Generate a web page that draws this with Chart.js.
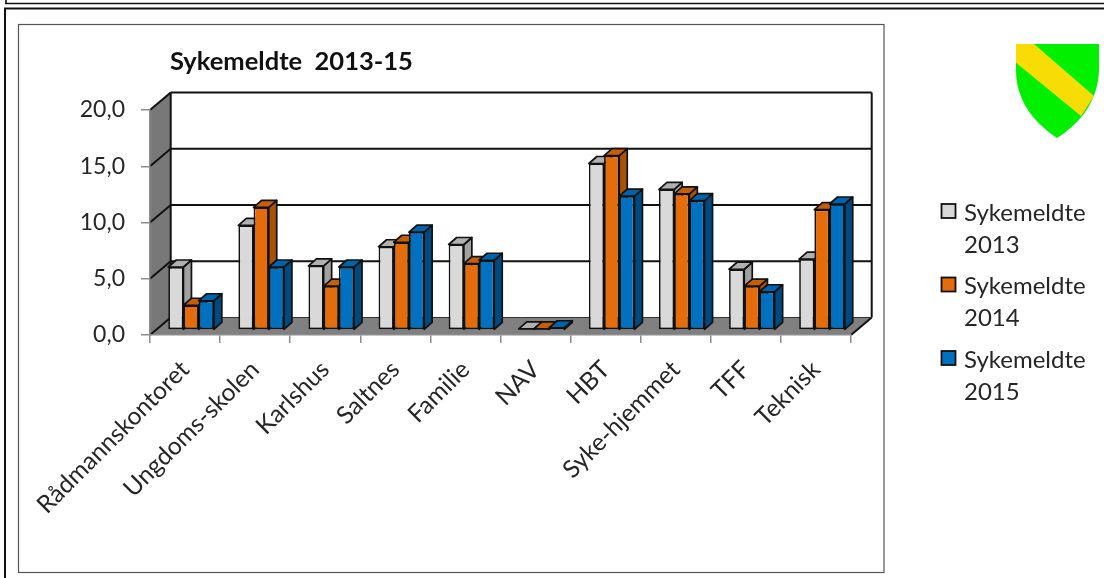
<!DOCTYPE html>
<html lang="no">
<head>
<meta charset="utf-8">
<title>Sykemeldte 2013-15</title>
<style>
html,body{margin:0;padding:0;background:#fff;width:1104px;height:578px;overflow:hidden}
#wrap{position:relative;width:1104px;height:578px}
canvas{position:absolute;left:0;top:0}
</style>
<script src="https://cdn.jsdelivr.net/npm/chart.js@4"></script>
</head>
<body>
<div id="wrap"><canvas id="c" width="1104" height="578"></canvas></div>
<script>
const categories = ["Rådmannskontoret","Ungdoms-skolen","Karlshus","Saltnes","Familie","NAV","HBT","Syke-hjemmet","TFF","Teknisk"];
const sykemeldte2013 = [5.6,9.3,5.7,7.4,7.6,0.1,14.8,12.5,5.4,6.3];
const sykemeldte2014 = [2.2,10.9,3.9,7.8,5.9,0.1,15.5,12.1,3.9,10.7];
const sykemeldte2015 = [2.6,5.6,5.6,8.7,6.2,0.2,11.9,11.5,3.4,11.2];
const seriesNames = ["Sykemeldte 2013","Sykemeldte 2014","Sykemeldte 2015"];
const chartTitle = "Sykemeldte  2013-15";
const yTicks = [0,5,10,15,20];

const faceColors = ["#d9d9d9","#e46c0a","#0070c0"];
const topColors  = ["#b0b0b0","#c75f08","#0064ac"];
const sideColors = ["#a0a0a0","#a85208","#004a80"];

const WALL = {dx:20.7, dy:-17.5};   // chart depth
const PLANE = {dx:6, dy:-5};        // plane of the bars' front faces
const BAR = {dx:8, dy:-7};          // bar depth
const FONT = "Lato, sans-serif";

function poly(ctx, pts, fill, stroke, lw){
  ctx.beginPath();
  pts.forEach((p,i)=> i ? ctx.lineTo(p[0],p[1]) : ctx.moveTo(p[0],p[1]));
  ctx.closePath();
  if(fill){ctx.fillStyle=fill;ctx.fill();}
  if(stroke){ctx.strokeStyle=stroke;ctx.lineWidth=lw;ctx.lineJoin="round";ctx.stroke();}
}
function line(ctx,x1,y1,x2,y2,color,lw){
  ctx.beginPath();ctx.moveTo(x1,y1);ctx.lineTo(x2,y2);
  ctx.strokeStyle=color;ctx.lineWidth=lw;ctx.stroke();
}

const framePlugin = {
  id:"frame",
  beforeDraw(chart){
    const ctx=chart.ctx, a=chart.chartArea, y=chart.scales.y;
    const dx=WALL.dx, dy=WALL.dy;
    ctx.save();
    ctx.fillStyle="#fff";ctx.fillRect(0,0,chart.width,chart.height);
    // page frame
    line(ctx,6,0,6,3.5,"#111",1.6);
    line(ctx,5,3.5,1104,3.5,"#111",1.6);
    line(ctx,4,8.5,1104,8.5,"#111",2);
    line(ctx,5,8,5,578,"#111",2);
    ctx.strokeStyle="#555";ctx.lineWidth=1.2;ctx.strokeRect(18.5,24.5,865.5,548);
    // side wall and floor
    const y0=y.getPixelForValue(0), yTop=y.getPixelForValue(yTicks[yTicks.length-1]);
    poly(ctx,[[a.left,yTop],[a.left+dx,yTop+dy],[a.left+dx,y0+dy],[a.left,y0]],"#787878");
    poly(ctx,[[a.left,y0],[a.left+dx,y0+dy],[a.right+dx,y0+dy],[a.right,y0]],"#808080");
    // gridlines on the back wall and the wall diagonals
    yTicks.forEach(v=>{
      const py=y.getPixelForValue(v);
      if(v>0) line(ctx,a.left+dx,py+dy,a.right+dx,py+dy,"#111",2);
      line(ctx,a.left,py,a.left+dx,py+dy,"#111",2);
    });
    line(ctx,a.left+dx,yTop+dy,a.left+dx,y0+dy,"#111",2);
    line(ctx,a.right+dx,yTop+dy,a.right+dx,y0+dy,"#111",2);
    line(ctx,a.right+dx,y0+dy,a.right,y0,"#111",2);
    line(ctx,a.left+dx,y0+dy,a.right+dx,y0+dy,"#333",1);
    ctx.restore();
  },
  beforeDatasetsDraw(chart){
    const ctx=chart.ctx;
    ctx.save();
    ctx.translate(PLANE.dx,PLANE.dy);
    // tops and sides first, series by series; the library then paints the front faces
    chart.data.datasets.forEach((ds,i)=>{
      chart.getDatasetMeta(i).data.forEach(bar=>{
        const l=bar.x-bar.width/2, r=bar.x+bar.width/2, t=bar.y, b=bar.base;
        poly(ctx,[[r,t],[r+BAR.dx,t+BAR.dy],[r+BAR.dx,b+BAR.dy],[r,b]],sideColors[i],"#111",1.7);
        poly(ctx,[[l,t],[l+BAR.dx,t+BAR.dy],[r+BAR.dx,t+BAR.dy],[r,t]],topColors[i],"#111",1.7);
      });
    });
  },
  afterDatasetsDraw(chart){ chart.ctx.restore(); },
  afterLayout(chart){
    const tb=chart.titleBlock;
    if(tb){ tb.left=170; tb.right=500; tb.top=46; tb.bottom=76; }
  },
  afterDraw(chart){
    const ctx=chart.ctx;
    ctx.save();
    // legend
    const rows=[204,277.5,351];
    seriesNames.forEach((name,i)=>{
      const ry=rows[i];
      ctx.fillStyle=faceColors[i];ctx.strokeStyle="#111";ctx.lineWidth=1.8;
      ctx.fillRect(941.5,ry,14,14);ctx.strokeRect(941.5,ry,14,14);
      ctx.fillStyle="#262626";ctx.font="24px "+FONT;ctx.textBaseline="middle";ctx.textAlign="left";
      const [a,b]=name.split(" ");
      ctx.fillText(a,964,ry+9);
      ctx.fillText(b,964,ry+41);
    });
    // municipal shield
    ctx.beginPath();
    ctx.moveTo(1016,44);ctx.lineTo(1099,44);ctx.lineTo(1099,70);
    ctx.bezierCurveTo(1098,100,1082,122,1057,138);
    ctx.bezierCurveTo(1033,122,1016,100,1016,70);
    ctx.closePath();
    ctx.fillStyle="#00f000";ctx.fill();
    ctx.save();ctx.clip();
    poly(ctx,[[1015,44],[1034,44],[1094,96],[1081,116],[1015,62]],"#f7dc05");
    ctx.restore();
    ctx.restore();
  }
};

new Chart(document.getElementById("c"),{
  type:"bar",
  data:{
    labels:categories,
    datasets:[sykemeldte2013,sykemeldte2014,sykemeldte2015].map((values,i)=>({
      label:seriesNames[i],
      data:values,
      backgroundColor:faceColors[i],
      borderColor:"#111",
      borderWidth:1.7,
      borderSkipped:false,
      categoryPercentage:0.65,
      barPercentage:1
    }))
  },
  options:{
    responsive:false,
    animation:false,
    devicePixelRatio:1,
    layout:{padding:{left:0,right:253,top:79.4,bottom:0}},
    plugins:{
      legend:{display:false},
      tooltip:{enabled:false},
      title:{display:true,text:chartTitle,align:"start",fullSize:false,
        color:"#111",padding:0,font:{family:FONT,size:25.5,weight:"bold",lineHeight:1.2}}
    },
    scales:{
      x:{
        afterFit(s){s.height=243;},
        grid:{drawOnChartArea:false,drawTicks:true,tickLength:8,color:"#8c8c8c",lineWidth:1.5},
        border:{color:"#8c8c8c",width:1.5},
        ticks:{minRotation:45,maxRotation:45,autoSkip:false,color:"#262626",font:{family:FONT,size:24.5},padding:12}
      },
      y:{
        min:0,max:20,
        afterFit(s){s.width=150;},
        afterBuildTicks(s){s.ticks=yTicks.map(v=>({value:v}));},
        grid:{drawOnChartArea:false,drawTicks:true,tickLength:9,color:"#8c8c8c",lineWidth:1.5},
        border:{color:"#8c8c8c",width:1.5},
        ticks:{color:"#262626",font:{family:FONT,size:23},padding:16,
          callback:v=>Number(v).toFixed(1).replace(".",",")}
      }
    }
  },
  plugins:[framePlugin]
});
</script>
</body>
</html>
